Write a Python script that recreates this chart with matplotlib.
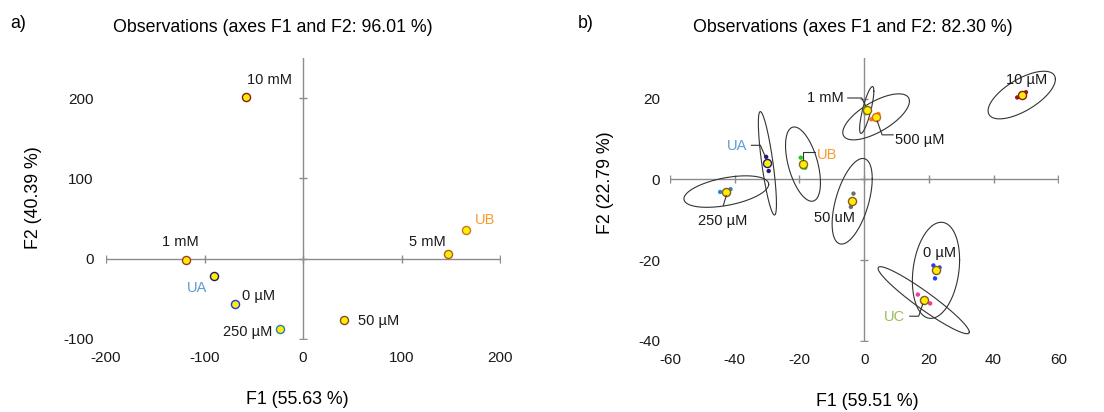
import numpy as np
import matplotlib
matplotlib.use("Agg")
import matplotlib.pyplot as plt
from matplotlib.transforms import IdentityTransform

plt.rcParams['font.family'] = ['Liberation Sans', 'DejaVu Sans']
plt.rcParams['axes.unicode_minus'] = False

# ---------------- data: panel a ----------------
labels_a = ["10 mM", "1 mM", "UA", "0 µM", "250 µM", "50 µM", "5 mM", "UB"]
f1_a = [-58, -119, -90, -69, -23, 42, 147.5, 165.5]
f2_a = [202, -1, -22, -57, -88, -76, 6, 36]
xticks_a = [-200, -100, 0, 100, 200]
yticks_a = [-100, 0, 100, 200]

# ---------------- data: panel b ----------------
labels_b = ["10 µM", "1 mM", "500 µM", "UA", "UB", "250 µM", "50 uM", "0 µM", "UC"]
f1_b = [48.7, 0.8, 3.7, -29.9, -18.9, -42.6, -3.7, 22.2, 18.4]
f2_b = [20.9, 17.2, 15.5, 4.0, 3.8, -3.0, -5.4, -22.5, -29.9]
# replicate observations (F1, F2) per group
reps_f1_b = [[47.3, 50.0, 48.8], [0.5, 1.3, 0.4], [2.2, 4.4, 4.0],
             [-30.3, -29.5, -29.8], [-19.6, -18.2, -19.0], [-44.5, -41.3, -42.0],
             [-3.3, -4.1, -3.8], [21.4, 23.3, 21.9], [16.6, 20.4, 18.2]]
reps_f2_b = [[20.3, 21.6, 21.1], [17.9, 16.6, 16.4], [14.9, 16.2, 15.3],
             [5.6, 2.1, 4.6], [5.4, 2.9, 3.0], [-3.1, -2.4, -3.6],
             [-3.5, -6.8, -5.7], [-21.3, -21.8, -24.5], [-28.5, -30.7, -30.4]]
# confidence ellipses: half-extent along F1, along F2, correlation
ell_sx_b = [10.4, 2.2, 10.3, 2.8, 5.4, 13.1, 6.2, 7.3, 14.1]
ell_sy_b = [5.9, 5.8, 5.7, 12.8, 9.2, 3.9, 10.6, 11.9, 8.3]
ell_rho_b = [0.66, 0.8, 0.68, -0.78, -0.5, 0.46, 0.53, 0.22, -0.95]
xticks_b = [-60, -40, -20, 0, 20, 40, 60]
yticks_b = [-40, -20, 0, 20]

# ---------------- styles ----------------
W, H = 1104, 412
FS = 10.5
FT = 12.8
AXC = "#8c8c8c"
YEL = "#FFEE00"
edge_a = ["#8B1A1A", "#9E3B20", "#1C1C6E", "#1D3BE0", "#2A7DB5", "#8B4A1E", "#B0601A", "#C87A1E"]
labcol_a = ["#1a1a1a", "#1a1a1a", "#5B9BD5", "#1a1a1a", "#1a1a1a", "#1a1a1a", "#1a1a1a", "#F79A2E"]
off_a = [(24, 17), (-5, 18), (-17, -12), (24, 8), (-33, -3), (34, -1), (-21, 12), (19, 10)]

repcol_b = ["#9B1B1B", "#33BB33", "#FF7722", "#1A1A80", "#22CC22", "#2E86C1", "#6E6E6E", "#2040FF", "#E8409A"]
edge_b = ["#8B1A1A", "#8A6A10", "#D2691E", "#1A1A80", "#8A6A10", "#8A5A20", "#8A5A20", "#8A5A20", "#8A5A20"]
labcol_b = ["#1a1a1a", "#1a1a1a", "#1a1a1a", "#5B9BD5", "#F79A2E", "#1a1a1a", "#1a1a1a", "#1a1a1a", "#9BBB59"]
off_b = [(5, 15), (-41, 12), (44, -23), (-30, 17), (24, 9), (-4, -29), (-18, -17), (4, 17), (-29, -17)]
leaders_b = {
    1: [(-1, 4), (-5, 12), (-19, 12)],
    2: [(1, -4), (6, -18), (17, -18)],
    3: [(-1, 4), (-7, 18), (-16, 18)],
    4: [(0, 4), (0, 12), (12, 12)],
    5: [(0, -4), (-3, -14)],
    8: [(-1, -4), (-5, -16), (-14, -16)],
}

fig = plt.figure(figsize=(W / 100, H / 100), dpi=100)


def px_axes(l, r, top, bottom):
    return fig.add_axes([l / W, 1 - bottom / H, (r - l) / W, (bottom - top) / H])


def style_axes(ax, xlim, ylim, xt, yt, padx, pady):
    ax.set_xlim(*xlim)
    ax.set_ylim(*ylim)
    for s in ax.spines.values():
        s.set_visible(False)
    ax.set_xticks(xt)
    ax.set_yticks(yt)
    ax.tick_params(length=0, labelsize=FS + 0.5, labelcolor="#1a1a1a")
    ax.tick_params(axis='x', pad=padx)
    ax.tick_params(axis='y', pad=pady)
    ax.axhline(0, color=AXC, lw=1, zorder=1)
    ax.axvline(0, color=AXC, lw=1, zorder=1)
    ax.plot(xt, np.zeros(len(xt)), ls='none', marker='|', ms=6, mew=1, color=AXC, zorder=1)
    ax.plot(np.zeros(len(yt)), yt, ls='none', marker='_', ms=6, mew=1, color=AXC, zorder=1)
    ax.set_facecolor("none")


# ---------------- panel a ----------------
axa = px_axes(106, 500, 58, 339)
style_axes(axa, (-200, 200), (-100, 250), xticks_a, yticks_a, 9, 9)
for i in range(len(labels_a)):
    axa.scatter([f1_a[i]], [f2_a[i]], s=34, c=YEL, edgecolors=edge_a[i], linewidths=1.0, zorder=3)
    axa.annotate(labels_a[i], (f1_a[i], f2_a[i]), xytext=off_a[i], textcoords='offset pixels',
                 ha='center', va='center', fontsize=FS, color=labcol_a[i], zorder=4)

# ---------------- panel b ----------------
axb = px_axes(670, 1058.3, 58.3, 341)
style_axes(axb, (-60, 60), (-40, 30), xticks_b, yticks_b, 9, 7)
t = np.linspace(0, 2 * np.pi, 300)
for i in range(len(labels_b)):
    sx, sy, r = ell_sx_b[i], ell_sy_b[i], ell_rho_b[i]
    ex = f1_b[i] + sx * np.cos(t)
    ey = f2_b[i] + sy * (r * np.cos(t) + np.sqrt(1 - r * r) * np.sin(t))
    axb.plot(ex, ey, color="#333333", lw=0.8, zorder=2)
    axb.scatter(reps_f1_b[i], reps_f2_b[i], s=10, c=repcol_b[i], edgecolors='none', zorder=3)
    axb.scatter([f1_b[i]], [f2_b[i]], s=34, c=YEL, edgecolors=edge_b[i], linewidths=1.0, zorder=4)
    axb.annotate(labels_b[i], (f1_b[i], f2_b[i]), xytext=off_b[i], textcoords='offset pixels',
                 ha='center', va='center', fontsize=FS, color=labcol_b[i], zorder=5)

# leader lines (display space, after limits fixed)
fig.canvas.draw()
for i, pts in leaders_b.items():
    px, py = axb.transData.transform((f1_b[i], f2_b[i]))
    xs = [px + dx for dx, dy in pts]
    ys = [py + dy for dx, dy in pts]
    fig.add_artist(plt.Line2D(xs, ys, transform=IdentityTransform(), color="#333333", lw=0.8, zorder=6))

# ---------------- titles & labels ----------------
fig.text(273 / W, 1 - 28 / H, "Observations (axes F1 and F2: 96.01 %)", ha='center', va='center', fontsize=FT)
fig.text(853 / W, 1 - 28 / H, "Observations (axes F1 and F2: 82.30 %)", ha='center', va='center', fontsize=FT)
fig.text(18 / W, 1 - 23 / H, "a)", ha='center', va='center', fontsize=FT)
fig.text(586 / W, 1 - 23 / H, "b)", ha='center', va='center', fontsize=FT)
fig.text(297 / W, 1 - 400 / H, "F1 (55.63 %)", ha='center', va='center', fontsize=FT)
fig.text(33 / W, 1 - 198 / H, "F2 (40.39 %)", ha='center', va='center', fontsize=FT, rotation=90)
fig.text(867 / W, 1 - 402 / H, "F1 (59.51 %)", ha='center', va='center', fontsize=FT)
fig.text(605 / W, 1 - 183 / H, "F2 (22.79 %)", ha='center', va='center', fontsize=FT, rotation=90)

fig.savefig("out.png", dpi=100)
